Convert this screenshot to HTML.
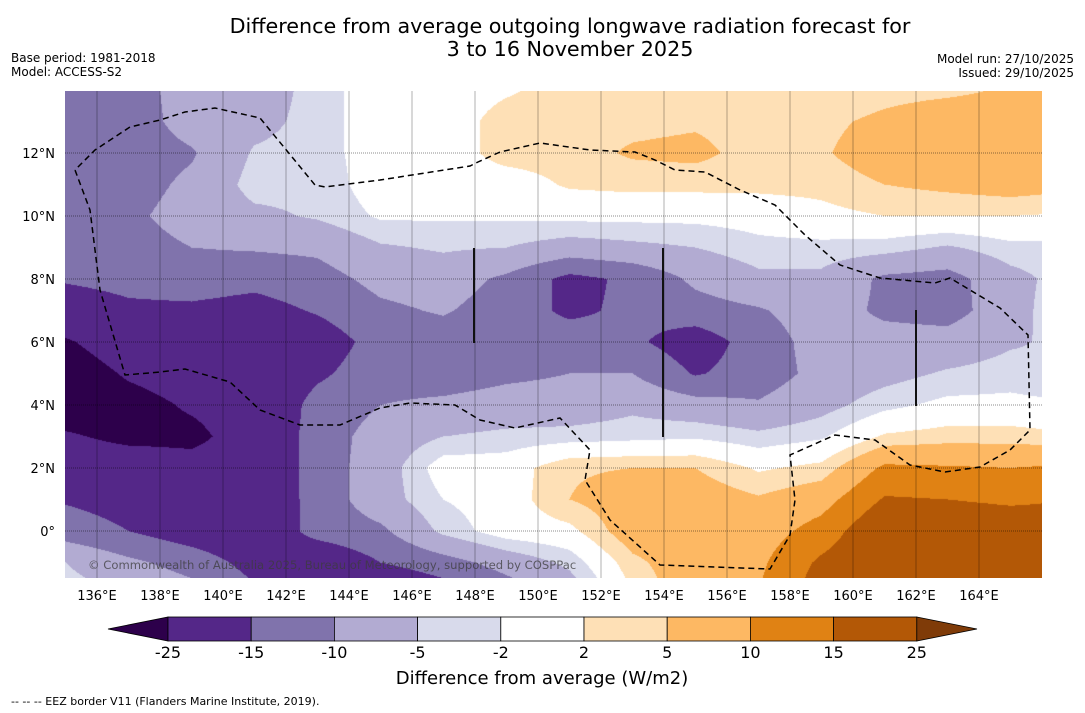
<!DOCTYPE html>
<html><head><meta charset="utf-8">
<style>
body{margin:0;background:#fff;font-family:"DejaVu Sans","Liberation Sans",sans-serif;}
#wrap{position:relative;width:1085px;height:713px;overflow:hidden;background:#fff;}
.t{position:absolute;white-space:nowrap;color:#000;}
</style></head>
<body>
<div id="wrap">
<div class="t" style="left:170px;top:15px;width:800px;text-align:center;font-size:20.7px;line-height:23px;">Difference from average outgoing longwave radiation forecast for<br>3 to 16 November 2025</div>
<div class="t" style="left:11px;top:51px;font-size:12px;line-height:14px;">Base period: 1981-2018<br>Model: ACCESS-S2</div>
<div class="t" style="right:11px;top:52px;font-size:12px;line-height:14px;text-align:right;">Model run: 27/10/2025<br>Issued: 29/10/2025</div>
<canvas id="map" width="977" height="487" style="position:absolute;left:65px;top:91px;"></canvas>
<svg id="ov" width="1085" height="713" style="position:absolute;left:0;top:0;"></svg>
<div class="t" style="left:88px;top:558px;font-size:11.6px;color:rgba(60,60,60,0.75);">© Commonwealth of Australia 2025, Bureau of Meteorology, supported by COSPPac</div>
<div class="t" style="left:342px;top:668px;width:400px;text-align:center;font-size:18px;">Difference from average (W/m2)</div>
<div class="t" style="left:11px;top:695px;font-size:11px;">--  --  -- EEZ border V11 (Flanders Marine Institute, 2019).</div>
</div>
<script>
const lons=[135,137,139,141,143,145,147,149,151,153,155,157,159,161,163,165,167];
const lats=[14,13,12,11,10,9,8,7,6,5,4,3,2,1,0,-1,-2];
const olr=[
[-12.5,-12.5,-7.5,-7.5,-3.5,0,0,1.5,3.5,3.5,3.5,3.5,2,3.5,4,5.5,6],
[-12.5,-12.5,-8,-6.5,-3.5,0,0,3.5,3.5,4,4.5,3.5,4,6,8,8,7.5],
[-12.5,-12.5,-10.5,-4.5,-3.5,0,0,3.5,3.5,5.5,6,3.5,4.5,7.5,8,8,7.5],
[-12.5,-12,-9,-3.5,-4,0,0,0,2.5,3,3,3,3,5,6,7,6],
[-12.5,-11,-8,-6,-4.5,-1.5,-1.5,-1.5,-1,-1,-1,-0.5,1,2,2,2,1.5],
[-13,-12,-10,-9.5,-9,-5.5,-4.5,-5,-7,-6,-5,-3,-3,-3.5,-5.5,-3,-3],
[-14.5,-13.5,-12.5,-13.5,-12,-8.5,-7.5,-11,-16.5,-14,-9,-6,-6,-11,-12,-6.5,-3],
[-18,-16,-16,-17,-14.5,-11,-9.5,-12.5,-16,-14,-12,-10.5,-7.5,-11,-12,-7,-1.5],
[-26,-20,-20,-20,-18,-13,-12.5,-12.5,-12.5,-14,-18,-12.5,-8,-8,-8,-5.5,-4],
[-30,-24,-21,-21,-16,-12,-12.5,-11,-10,-10,-15.5,-12.5,-8.5,-6.5,-4.5,-3.5,-5],
[-30,-28,-24,-21,-13,-10,-9,-8,-8,-6,-8,-9.5,-6.5,-3,-1,-1,-1.5],
[-24,-27,-27,-21,-12.5,-8,-5,-4,-3.5,-3,-2.5,-4,-2.5,2.5,3.5,3.5,2.5],
[-20,-20,-22,-21,-12.5,-7.5,0,0,4.5,5,5,1.5,3,11,10.5,10,11],
[-15.5,-17,-19,-20,-13,-7,-2,0,5,7.5,7.5,5.5,8,15.5,15,14,15],
[-12.5,-15,-18,-20,-13,-11,-4,0,1,7.5,8,7.5,12,20,20,19,18],
[-5,-9,-12,-17,-20,-15,-12,-8,-4,4,8,9,16,20,21,20,18],
[-3,-5,-8,-14,-20,-22,-18,-13,-8,2,8,10,18,20,21,20,18]];
const levels=[-25,-15,-10,-5,-2,2,5,10,15,25];
const levelLabels=["-25","-15","-10","-5","-2","2","5","10","15","25"];
const bandColors=["#2d004b","#542788","#8073ac","#b2abd2","#d8daeb","#ffffff","#fee0b6","#fdb863","#e08214","#b35806","#7f3b08"];
const lonTicks=[136,138,140,142,144,146,148,150,152,154,156,158,160,162,164];
const latTicks=[0,2,4,6,8,10,12];

const PX=31.5, X0=65.5, Y0=531;
const xOf=lon=>X0+(lon-135)*PX;
const yOf=lat=>Y0-lat*PX;
function band(v){let i=0;while(i<levels.length&&v>=levels[i])i++;return i;}
function hex(c){return [parseInt(c.substr(1,2),16),parseInt(c.substr(3,2),16),parseInt(c.substr(5,2),16)];}
const rgb=bandColors.map(hex);
function val(lon,lat){
  let fx=(lon-lons[0])/(lons[1]-lons[0]), fy=(lats[0]-lat)/(lats[0]-lats[1]);
  fx=Math.max(0,Math.min(lons.length-1.0001,fx)); fy=Math.max(0,Math.min(lats.length-1.0001,fy));
  const i=Math.floor(fx), j=Math.floor(fy), a=fx-i, b=fy-j;
  return olr[j][i]*(1-a)*(1-b)+olr[j][i+1]*a*(1-b)+olr[j+1][i]*(1-a)*b+olr[j+1][i+1]*a*b;
}
const cv=document.getElementById('map'),ctx=cv.getContext('2d');
const img=ctx.createImageData(cv.width,cv.height);
for(let py=0;py<cv.height;py++){for(let px=0;px<cv.width;px++){
  const X=65+px+0.5, Y=91+py+0.5;
  const lon=135+(X-X0)/PX, lat=(Y0-Y)/PX;
  const c=rgb[band(val(lon,lat))], k=(py*cv.width+px)*4;
  img.data[k]=c[0];img.data[k+1]=c[1];img.data[k+2]=c[2];img.data[k+3]=255;}}
ctx.putImageData(img,0,0);

const NS='http://www.w3.org/2000/svg', svg=document.getElementById('ov');
function mk(tag,attrs,parent){const e=document.createElementNS(NS,tag);for(const k in attrs)e.setAttribute(k,attrs[k]);(parent||svg).appendChild(e);return e;}
const FF='DejaVu Sans, Liberation Sans, sans-serif';
lonTicks.forEach(l=>{const e=mk('line',{x1:xOf(l),x2:xOf(l),y1:91,y2:578,stroke:'rgba(0,0,0,0.3)','stroke-width':1});


const t=mk('text',{x:xOf(l),y:600,'text-anchor':'middle','font-size':13,'font-family':FF});t.textContent=l+'°E';

});
latTicks.forEach(l=>{const e=mk('line',{x1:65,x2:1042,y1:yOf(l),y2:yOf(l),stroke:'rgba(0,0,0,0.45)','stroke-width':1,'stroke-dasharray':'1,1'});


const t=mk('text',{x:55,y:yOf(l)+5,'text-anchor':'end','font-size':13,'font-family':FF});t.textContent=(l===0?'0°':l+'°N');

});
const eez=mk('polyline',{points:"75,170 90,210 100,290 125,375 160,372 185,369 230,382 260,410 300,425 340,425 380,408 410,403 455,405 480,420 515,428 560,418 590,450 585,480 610,520 660,565 770,569 790,535 795,500 790,455 835,435 875,440 910,465 945,472 980,467 1010,450 1030,430 1028,335 1000,308 950,278 935,283 880,278 840,265 805,235 775,205 740,190 705,172 675,170 655,160 635,152 590,150 540,143 500,152 478,162 470,166 380,180 325,187 315,185 260,118 215,108 185,112 160,120 130,127 95,150 75,170",fill:'none',stroke:'#000','stroke-width':1.5,'stroke-dasharray':'6,4'});


[[474,248,343],[663,248,437],[916,310,406]].forEach(s=>{const e=mk('line',{x1:s[0],x2:s[0],y1:s[1],y2:s[2],stroke:'#111','stroke-width':2});

});
const cbX0=168, cbW=83.2, cbY=617, cbH=24;
const tri1=mk('polygon',{points:`108,${cbY+cbH/2} ${cbX0},${cbY} ${cbX0},${cbY+cbH}`,fill:bandColors[0],stroke:'#000','stroke-width':0.8});


for(let i=0;i<levels.length-1;i++){const r=mk('rect',{x:cbX0+i*cbW,y:cbY,width:cbW,height:cbH,fill:bandColors[i+1],stroke:'#000','stroke-width':0.8});

}
const cbEnd=cbX0+(levels.length-1)*cbW;
const tri2=mk('polygon',{points:`${cbEnd},${cbY} 977,${cbY+cbH/2} ${cbEnd},${cbY+cbH}`,fill:bandColors[10],stroke:'#000','stroke-width':0.8});


levelLabels.forEach((s,i)=>{const t=mk('text',{x:cbX0+i*cbW,y:658,'text-anchor':'middle','font-size':16,'font-family':FF});t.textContent=s;

});
</script>
</body></html>
